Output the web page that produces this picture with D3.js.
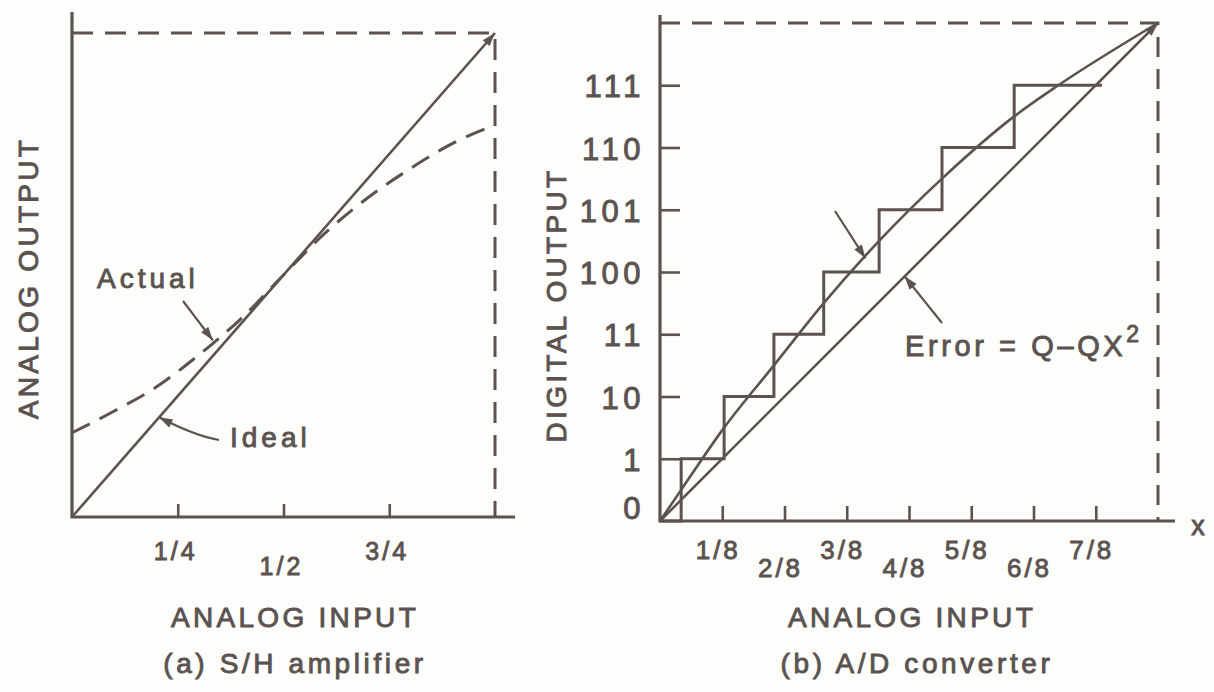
<!DOCTYPE html>
<html><head><meta charset="utf-8">
<script src="https://cdn.jsdelivr.net/npm/d3@7"></script>
<style>
html,body{margin:0;padding:0;background:#fdfdfb;}
svg{display:block;}
text{font-family:"Liberation Sans",Arial,Helvetica,sans-serif;fill:#5b5350;stroke:#5b5350;stroke-width:0.9px;}
</style></head><body>
<svg id="chart" width="1214" height="692"></svg>
<script>
// ---------------- data ----------------
// (a) S/H amplifier — normalized input / output
const shTickValues = [0.25, 0.5, 0.75];
const shTickLabels = ["1/4", "1/2", "3/4"];
const shIdeal = [[0, 0], [1, 1]];
const shActual = [[0, 0.174], [0.1, 0.219], [0.2, 0.269], [0.3, 0.335], [0.4, 0.41],
                  [0.5, 0.5], [0.6, 0.588], [0.7, 0.66], [0.8, 0.72], [0.9, 0.772], [1.0, 0.81]];
// (b) A/D converter — input in eighths of full scale, output codes
const adCodes = ["0", "1", "10", "11", "100", "101", "110", "111"];
const adXTickValues = [1, 2, 3, 4, 5, 6, 7, 8];
const adXTickLabels = ["1/8", "2/8", "3/8", "4/8", "5/8", "6/8", "7/8"];
const adStepStarts = [0, 0.34, 1.03, 1.83, 2.63, 3.52, 4.53, 5.69]; // input where each code begins
const adStepEnd = 7.1;
const adTransfer = [[0, 0], [0.34, 0.5], [1.03, 1.5], [1.83, 2.5], [2.63, 3.5], [3.52, 4.5],
                    [4.53, 5.5], [5.69, 6.5], [6.4, 7.0], [8, 8]];
const adIdeal = [[0, 0], [8, 8]];

// ---------------- drawing ----------------
const INK = "#5b5350";
const svg = d3.select("#chart");
svg.append("rect").attr("width", 1214).attr("height", 692).attr("fill", "#fdfdfb");

const defs = svg.append("defs");
defs.append("marker").attr("id", "arrow").attr("viewBox", "0 0 12 8")
  .attr("refX", 12).attr("refY", 4).attr("markerUnits", "userSpaceOnUse")
  .attr("markerWidth", 15).attr("markerHeight", 9).attr("orient", "auto")
  .append("path").attr("d", "M0,0 L12,4 L0,8 Z").attr("fill", INK).attr("stroke", "none");

function txt(g, s, x, y, opts = {}) {
  const t = g.append("text").attr("x", x).attr("y", y).text(s)
    .attr("font-size", opts.size || 28)
    .attr("letter-spacing", opts.ls != null ? opts.ls : 3.5)
    .attr("text-anchor", opts.anchor || "middle");
  if (opts.rotate) t.attr("transform", `rotate(-90,${x},${y})`);
  return t;
}
function styleTicks(sel) {
  sel.select(".domain").remove();
  sel.selectAll(".tick line").attr("stroke", INK).attr("stroke-width", 2.6);
  sel.selectAll(".tick text").remove();
}

// ===== Panel (a) =====
const xL = d3.scaleLinear().domain([0, 1]).range([72, 495]);
const yL = d3.scaleLinear().domain([0, 1]).range([517, 33]);
const gA = svg.append("g");

gA.append("path")
  .attr("d", `M${xL(0)},${yL(1)} H${xL(1)} V${yL(0)}`)
  .attr("fill", "none").attr("stroke", INK).attr("stroke-width", 3)
  .attr("stroke-dasharray", "21,12");

gA.append("path")
  .attr("d", `M${xL(0)},${yL(1) - 21} V${yL(0)} H${xL(1) + 20}`)
  .attr("fill", "none").attr("stroke", INK).attr("stroke-width", 3.2);
gA.append("g").attr("transform", `translate(0,${yL(0)})`)
  .call(d3.axisBottom(xL).tickValues(shTickValues).tickSizeInner(-13).tickSizeOuter(0))
  .call(styleTicks);
shTickValues.forEach((v, i) => {
  txt(gA, shTickLabels[i], xL(v) - 2, yL(0) + (i % 2 === 1 ? 58 : 43), { size: 25, ls: 3 });
});

const lineL = d3.line().x(d => xL(d[0])).y(d => yL(d[1]));
gA.append("path").datum(shIdeal).attr("d", lineL)
  .attr("fill", "none").attr("stroke", INK).attr("stroke-width", 2.6)
  .attr("marker-end", "url(#arrow)");
gA.append("path").datum(shActual).attr("d", lineL.curve(d3.curveMonotoneX))
  .attr("fill", "none").attr("stroke", INK).attr("stroke-width", 3)
  .attr("stroke-dasharray", "20,11");

txt(gA, "Actual", 97, 288, { anchor: "start", ls: 4 });
gA.append("line").attr("x1", 183).attr("y1", 301).attr("x2", xL(0.333)).attr("y2", yL(0.365))
  .attr("stroke", INK).attr("stroke-width", 2.2).attr("marker-end", "url(#arrow)");
txt(gA, "Ideal", 230, 447, { anchor: "start", ls: 4 });
gA.append("path")
  .attr("d", `M219,440 Q195,436 ${xL(0.206)},${yL(0.206)}`)
  .attr("fill", "none").attr("stroke", INK).attr("stroke-width", 2.2)
  .attr("marker-end", "url(#arrow)");

txt(gA, "ANALOG OUTPUT", 38, 278, { rotate: true, ls: 3.3 });
txt(gA, "ANALOG INPUT", 295, 627, { ls: 3.3 });
txt(gA, "(a) S/H amplifier", 295, 673, { ls: 3.6 });

// ===== Panel (b) =====
const xR = d3.scaleLinear().domain([0, 8]).range([660, 1158]);
const yR = d3.scaleLinear().domain([0, 8]).range([521, 23]);
const gB = svg.append("g");

gB.append("path")
  .attr("d", `M${xR(0)},${yR(8)} H${xR(8)} V${yR(0)}`)
  .attr("fill", "none").attr("stroke", INK).attr("stroke-width", 3)
  .attr("stroke-dasharray", "20,12");

gB.append("path")
  .attr("d", `M${xR(0)},${yR(8) - 8} V${yR(0)} H${xR(8) + 17}`)
  .attr("fill", "none").attr("stroke", INK).attr("stroke-width", 3.2);
gB.append("g").attr("transform", `translate(0,${yR(0)})`)
  .call(d3.axisBottom(xR).tickValues(adXTickValues.slice(0, 7)).tickSizeInner(-15).tickSizeOuter(0))
  .call(styleTicks);
gB.append("g").attr("transform", `translate(${xR(0)},0)`)
  .call(d3.axisRight(yR).tickValues(d3.range(1, 8)).tickSizeInner(20).tickSizeOuter(0))
  .call(styleTicks);

adXTickLabels.forEach((s, i) => {
  txt(gB, s, xR(adXTickValues[i]) - 4, yR(0) + (i % 2 === 1 ? 56 : 38), { size: 26, ls: 3 });
});
adCodes.forEach((s, i) => {
  txt(gB, s, xR(0) - 15, yR(i) + (i === 0 ? -2 : 12), { size: 31, ls: 4.5, anchor: "end" });
});
txt(gB, "x", xR(8) + 40, yR(0) + 14, { size: 27, ls: 0 });

const lineR = d3.line().x(d => xR(d[0])).y(d => yR(d[1]));
const stairs = adStepStarts.map((x, i) => [x, i]).concat([[adStepEnd, adStepStarts.length - 1]]);
gB.append("path").datum(stairs).attr("d", lineR.curve(d3.curveStepAfter))
  .attr("fill", "none").attr("stroke", INK).attr("stroke-width", 3);
gB.append("path").datum(adTransfer).attr("d", d3.line().x(d => xR(d[0])).y(d => yR(d[1])).curve(d3.curveMonotoneX))
  .attr("fill", "none").attr("stroke", INK).attr("stroke-width", 2.6);
gB.append("path").datum(adIdeal).attr("d", d3.line().x(d => xR(d[0])).y(d => yR(d[1])))
  .attr("fill", "none").attr("stroke", INK).attr("stroke-width", 2.6)
  .attr("marker-end", "url(#arrow)");

gB.append("line").attr("x1", 835).attr("y1", 211).attr("x2", xR(3.3)).attr("y2", yR(4.22))
  .attr("stroke", INK).attr("stroke-width", 2.2).attr("marker-end", "url(#arrow)");
gB.append("line").attr("x1", 942).attr("y1", 323).attr("x2", xR(3.93)).attr("y2", yR(3.93))
  .attr("stroke", INK).attr("stroke-width", 2.2).attr("marker-end", "url(#arrow)");
const err = txt(gB, "", 905, 356, { anchor: "start", ls: 3.6, size: 29 });
err.append("tspan").text("Error = Q\u2013QX");
err.append("tspan").text("2").attr("dy", -14).attr("font-size", 23);

txt(gB, "DIGITAL OUTPUT", 566, 305, { rotate: true, ls: 3.3 });
txt(gB, "ANALOG INPUT", 912, 627, { ls: 3.3 });
txt(gB, "(b) A/D converter", 917, 673, { ls: 3.6 });
</script>
</body></html>
